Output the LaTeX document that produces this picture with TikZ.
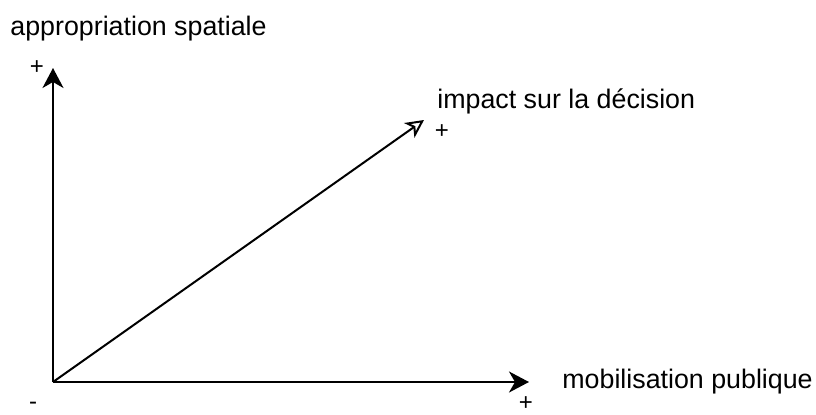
\documentclass[tikz,border=0pt]{standalone}
\usepackage{fontspec}
\setmainfont{Liberation Sans}
\usetikzlibrary{arrows.meta}
\begin{document}
\begin{tikzpicture}[x=0.5pt,y=-0.5pt,
  lbl/.style={inner sep=0pt,font=\fontsize{13.4pt}{16pt}\selectfont},
  sgn/.style={inner sep=0pt,font=\fontsize{12pt}{14pt}\selectfont},
  axis/.style={line width=1pt,-{Stealth[length=10pt,width=10.5pt,inset=3pt]}},
  diag/.style={line width=1pt,-{Stealth[open,length=9pt,width=9pt,inset=2.5pt,line width=1pt]}}]
\useasboundingbox (0,0) rectangle (816,414);
\coordinate (o) at (53,382);
\coordinate (ytip) at (53,68);
\coordinate (xtip) at (529,382);
\coordinate (dtip) at (424,120);
\draw[axis] (o) -- (ytip);
\draw[axis] (o) -- (xtip);
\draw[diag] (o) -- (dtip);
\node[lbl,anchor=base west] (ylab) at (10,35) {appropriation spatiale};
\node[lbl,anchor=base west] (dlab) at (437,108) {impact sur la décision};
\node[lbl,anchor=west] (xlab) at (562,382) {mobilisation publique};
\node[sgn] (yplus) at (37,68) {+};
\node[sgn] (dplus) at (442,132) {+};
\node[sgn] (xplus) at (526,404) {+};
\node[sgn] (ominus) at (33,406) {-};
\end{tikzpicture}
\end{document}
